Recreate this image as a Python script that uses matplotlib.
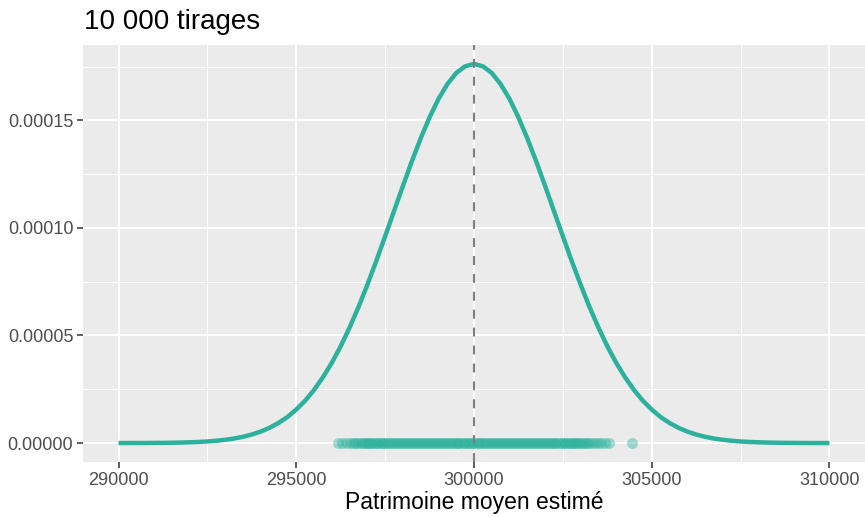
import matplotlib.pyplot as plt
import numpy as np

# densité estimée, pas de 250
x_dens = list(range(290000, 310001, 250))
y_half = [0.00000001, 0.00000002, 0.00000003, 0.00000004, 0.00000007, 0.00000010,
          0.00000016, 0.00000024, 0.00000035, 0.00000052, 0.00000075, 0.00000107,
          0.00000152, 0.00000212, 0.00000292, 0.00000398, 0.00000536, 0.00000712,
          0.00000936, 0.0000121, 0.0000156, 0.0000197, 0.0000247, 0.0000306,
          0.0000373, 0.0000450, 0.0000537, 0.0000632, 0.0000736, 0.0000846,
          0.0000961, 0.0001078, 0.0001195, 0.0001309, 0.0001416, 0.0001514,
          0.0001599, 0.0001668, 0.0001720, 0.0001751]
y_dens = y_half + [0.0001762] + y_half[::-1]

# moyennes tirées (bande de points à y = 0)
tirages = [296180, 296300, 296410, 296520, 296600, 296660, 296700, 296780, 296850, 296900,
           296960, 297010, 297060, 297110, 297160, 297210, 297260,
           297310, 297370, 297420, 297480, 297530, 297590, 297640, 297700, 297760, 297810,
           297870, 297920, 297980, 298030, 298090, 298150, 298200, 298260, 298310, 298370,
           298420, 298480, 298540, 298590, 298650, 298700, 298760, 298810, 298870, 298930,
           298980, 299040, 299090, 299150, 299200, 299260, 299320, 299370, 299430, 299480,
           299540, 299590, 299650, 299710, 299760, 299820, 299870, 299930, 299980, 300040,
           300100, 300150, 300210, 300260, 300320, 300370, 300430, 300490, 300540, 300600,
           300650, 300710, 300760, 300820, 300880, 300930, 300990, 301040, 301100, 301150,
           301210, 301270, 301320, 301380, 301430, 301490, 301540, 301600, 301660, 301710,
           301770, 301820, 301880, 301930, 301990, 302050, 302100, 302160, 302210, 302270,
           302320, 302380, 302440, 302490, 302550, 302600, 302660, 302710,
           302760, 302800, 302850, 302900, 302960, 303010, 303060, 303110, 303170, 303240,
           303320, 303400, 303490, 303580, 303680, 303800, 304440]

moyenne = 300000
couleur = '#2cb19d'

plt.rcParams['font.family'] = ['Liberation Sans', 'DejaVu Sans']

fig = plt.figure(figsize=(8.65, 5.17), dpi=100)
ax = fig.add_axes([83/865, 55/517, 782/865, 417/517])
ax.set_facecolor('#ebebeb')

# points en fondu : plus opaques au centre, où les tirages se superposent
ax.scatter(tirages, np.zeros(len(tirages)), s=62, color=couleur, alpha=0.42,
           linewidths=0, zorder=3)
ax.plot(x_dens, y_dens, color=couleur, lw=3.2, solid_capstyle='butt',
        solid_joinstyle='round', zorder=4)
ax.axvline(moyenne, color='#7f7f7f', lw=1.5, linestyle=(0, (4.3, 4.3)), zorder=5)

ax.set_xlim(289000, 311000)
ax.set_ylim(-0.0000088, 0.0001850)
ax.set_xticks([290000, 295000, 300000, 305000, 310000])
ax.set_xticks([292500, 297500, 302500, 307500], minor=True)
ax.set_yticks([0, 0.00005, 0.0001, 0.00015])
ax.set_yticks([0.000025, 0.000075, 0.000125, 0.000175], minor=True)
ax.set_yticklabels(['0.00000', '0.00005', '0.00010', '0.00015'])
ax.set_xticklabels(['290000', '295000', '300000', '305000', '310000'])

ax.grid(which='major', color='white', lw=1.4)
ax.grid(which='minor', color='white', lw=0.7)
ax.set_axisbelow(True)
for s in ax.spines.values():
    s.set_visible(False)
ax.tick_params(which='major', length=4, width=1.1, color='#333333',
               labelsize=13, labelcolor='#4d4d4d', pad=3)
ax.tick_params(which='minor', length=0)

ax.set_xlabel('Patrimoine moyen estimé', fontsize=16.5, color='black', labelpad=2)
fig.text(84/865, 1 - 29/517, '10 000 tirages', fontsize=20, ha='left', va='baseline')

fig.savefig('out.png', dpi=100)
